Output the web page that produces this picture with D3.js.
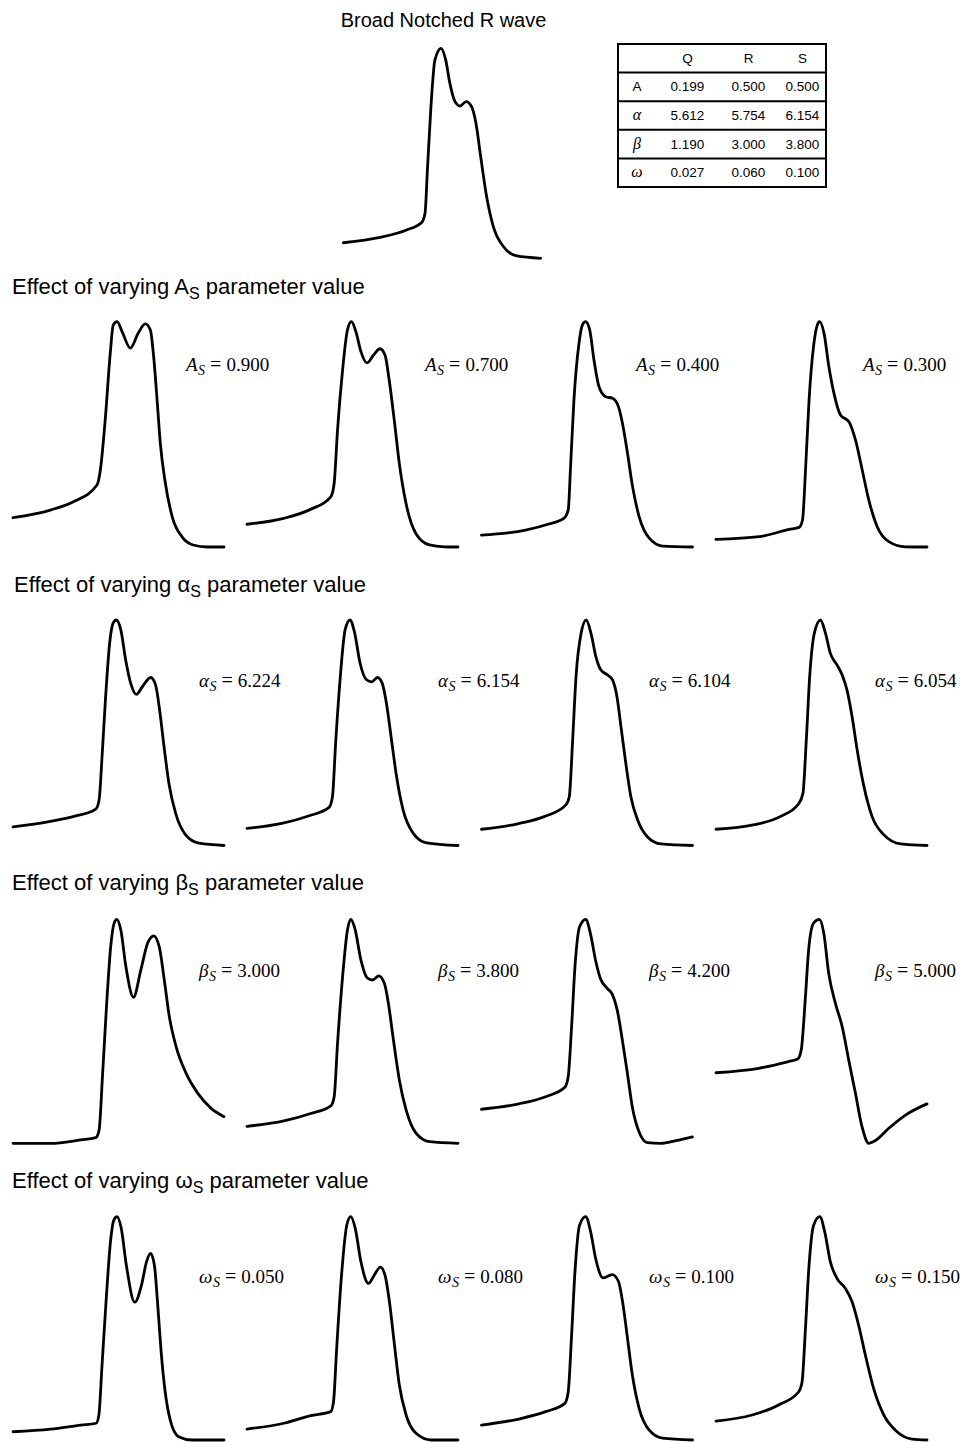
<!DOCTYPE html>
<html>
<head>
<meta charset="utf-8">
<script src="https://cdn.jsdelivr.net/npm/d3@7"></script>
<style>
  body { margin: 0; background: #fff; }
</style>
</head>
<body>
<div id="chart"></div>
<script>
// ---- DATA (t = time 0..100 %, v = amplitude 0..100 %) ----

const mainWave = [[0,7.4],[18.6,10],[32.1,13.5],[39.7,17],[41.4,21.4],[42.7,43.7],[44.4,72.2],[46.4,94.4],[49.5,100],[51.9,94.4],[54,83.3],[56.6,74.6],[59.1,72.5],[62.2,74.6],[65,72.2],[67.2,64.3],[69.6,48.4],[72.6,29.4],[76,15.1],[81.1,5.6],[87.9,1.1],[100,0]];

const ampWaves = [
  [[0,13],[17.7,16.4],[28.6,20.1],[39.8,27.5],[41.4,34.2],[43.7,56.4],[46.1,86.1],[47.5,98.5],[49.3,100],[51.7,95.6],[55.6,88.3],[59.4,95],[62.7,99],[65.1,96.3],[66.5,86.1],[68.4,63.9],[69.8,46.2],[72.2,28.4],[75.5,13.3],[80.2,4.4],[85.4,0.9],[92.1,0],[100,0]],
  [[0,10.1],[17.4,12.7],[30.1,16.7],[39.7,22.3],[41.3,28.2],[42.9,51.9],[45.3,78.5],[47.6,96.3],[49.5,100],[51.6,95.6],[54,86.7],[56.8,81.7],[60,85.2],[63,88],[65.4,85.2],[67.4,74],[69.8,56.2],[72.2,37],[75.4,19.2],[80.1,5.9],[86.5,0.9],[93.6,0.1],[100,0]],
  [[0,5.3],[20.9,7.5],[31.9,10.2],[39,12.7],[41.1,16.4],[42.2,35.5],[43.8,65.1],[46.2,90.4],[47.8,98.5],[49.3,100],[51.3,96.3],[53.3,83],[55.7,71.1],[58.9,66.7],[62.1,66],[64.9,62.3],[66.8,54.9],[69.2,41.6],[71.6,26.8],[74.7,13.5],[79.5,3.9],[85.8,0.4],[100,0]],
  [[0,3.4],[20.5,4.6],[34.7,7.8],[39.4,8.7],[41,12],[42.5,35.5],[44.1,65.1],[46.4,90.4],[48,98.5],[49.1,100],[51.2,94.8],[53.5,80],[55.9,68.2],[59,58.6],[63,55.6],[66.1,47.5],[69.3,34.2],[72.4,20.9],[76.4,9],[81.9,2.4],[89.8,0.1],[100,0]]
];

const alphaWaves = [
  [[0,8.3],[17.1,10.6],[29.7,13.1],[39.2,16.1],[40.8,20.2],[42.3,40.9],[43.9,66],[45.8,89.7],[47.4,98.5],[49,100],[51.1,95.6],[53.4,82.3],[55.8,71.9],[58.5,67],[61.3,70.4],[65.3,74.5],[67.6,71.1],[69.5,60],[71.6,43.7],[73.9,27.5],[77.1,14.2],[81.8,4.7],[88.2,1],[100,0]],
  [[0,7.6],[16.5,9.8],[29.1,13.1],[38.9,16.9],[40.5,21.6],[42,45.3],[44.1,73.4],[46.5,95.6],[48.8,100],[50.9,94.8],[53.6,80.8],[56.7,73.4],[59.1,72.6],[61.8,74.5],[64.1,71.9],[66.1,63],[68.5,46.7],[70.9,30.5],[74,15.7],[78.8,5.4],[85.1,1.2],[100,0]],
  [[0,7.2],[17.1,9.6],[29.7,12.8],[40,18],[41.6,21.6],[43.2,46.8],[44.8,74.9],[47.2,94.1],[49.6,100],[51.9,94.1],[54.2,83.8],[56.6,77.8],[59.8,75.6],[62.1,73.4],[64.2,66],[66.1,52.7],[68.4,36.4],[70.8,21.6],[74,11.3],[78.7,3.8],[85.1,0.7],[100,0]],
  [[0,7.2],[17.7,9.1],[30.4,12.8],[39.1,18.4],[41.2,23.1],[42.8,46.8],[44.4,74.9],[46.6,94.1],[49.5,100],[51.9,94.1],[54.2,85.2],[57.4,80],[59.8,75.6],[62.1,68.9],[64.5,57.1],[66.9,42.4],[70.1,26.2],[74,12.8],[79.6,4.7],[87.5,0.7],[100,0]]
];

const betaWaves = [
  [[0,0],[17.8,0],[32,1.5],[39.2,2.5],[40.8,5.9],[42.4,29.8],[44.4,62.5],[46.3,87.8],[47.9,98.2],[49.2,100],[51.1,95.2],[53.5,78.9],[57.1,65.2],[60.6,77.4],[63.8,89.3],[66.7,92.6],[69.3,87.8],[71.7,72.9],[74.1,56.5],[77.3,43.2],[82,31.3],[87.6,22.3],[93.9,15.6],[100,11.9]],
  [[0,7.6],[17.5,10],[30.2,13.3],[39.7,16.7],[41.3,20.7],[42.9,44.5],[45.3,74.3],[47.6,95.2],[49.2,100],[51.1,96],[54,81.8],[57.1,73.7],[59.5,72.9],[62.4,74.7],[65.1,71.4],[67,62.5],[69.4,46.1],[72.2,28.3],[75.4,14.9],[80.1,4.5],[86.5,0.7],[100,0]],
  [[0,15.2],[17.7,17.6],[30.4,20.8],[39.5,25],[41.1,29.8],[42.7,52.1],[44.3,78.9],[46.5,96.7],[49.4,100],[51.7,93.3],[54.1,81.5],[56.5,73.2],[59.6,69.2],[62,66.5],[64.4,59.1],[66.8,45.8],[69.2,30.9],[71.5,16.1],[74.7,5],[78.6,0.3],[85,0],[92.1,1.2],[100,2.9]],
  [[0,31.5],[20.2,33.5],[34.4,36.5],[38.7,37.6],[40.4,41.7],[42.3,64.1],[43.9,86.4],[46.3,98.4],[49,100],[51.1,93.8],[53.4,75.9],[56.6,62.5],[59.8,52.1],[62.9,37.2],[66.1,22.3],[69.2,7.4],[72.4,0],[75.5,1.2],[81.9,6.7],[89.8,12.6],[100,17.6]]
];

const omegaWaves = [
  [[0,3.7],[17.8,4.9],[32.2,6.7],[39.4,7.5],[40.7,11.2],[42.2,33.6],[44.2,63.4],[46.2,88.8],[47.8,98.5],[49.3,100],[51.3,94.8],[53.7,78.4],[57.7,61.7],[60.9,69.4],[63.3,79.9],[65.2,83.6],[67,78.4],[68.6,60.4],[70.2,39.6],[72.1,21.7],[74.5,9],[78.5,1.5],[84.8,0],[100,0]],
  [[0,4.9],[17.5,7.5],[30.2,10.9],[39.7,12.7],[41,17.1],[42.5,41],[44.8,73.8],[47.3,96.3],[49.2,100],[51.3,94.8],[54,79.8],[57.6,70.1],[60.3,73.8],[63.2,77.4],[65.4,73.8],[67.5,61.9],[69.9,42.5],[72.2,24.6],[75.4,11.2],[80.1,3],[87.3,0],[100,0]],
  [[0,6.7],[17.7,9.4],[30.4,12.7],[39.5,16.4],[41.1,21.6],[42.7,47],[44.3,75.4],[46.5,96.3],[49.4,100],[51.7,93.3],[54.1,81.3],[57.6,72.6],[62,74.1],[64.9,71.1],[67.1,60.4],[69.2,45.5],[71.5,29.1],[74.7,14.2],[79.4,4.5],[85.8,0.8],[100,0]],
  [[0,8.5],[17.1,11.2],[29.7,15.7],[39.2,21.6],[40.8,26.1],[42.4,50],[44,76.9],[46.3,96.3],[49.2,100],[51.5,93.3],[54.2,79.8],[57.4,72.3],[61.3,67.9],[64.5,61.9],[67.6,51.4],[70.8,38],[74.7,23.1],[79.5,11.2],[85.8,3.7],[92.9,0.4],[100,0]]
];

// parameter values shown next to each small wave
const ampValues   = ["0.900", "0.700", "0.400", "0.300"];
const alphaValues = ["6.224", "6.154", "6.104", "6.054"];
const betaValues  = ["3.000", "3.800", "4.200", "5.000"];
const omegaValues = ["0.050", "0.080", "0.100", "0.150"];

// parameter table
const tableCols = ["Q", "R", "S"];
const tableRows = ["A", "α", "β", "ω"];
const tableValues = [
  ["0.199", "0.500", "0.500"],
  ["5.612", "5.754", "6.154"],
  ["1.190", "3.000", "3.800"],
  ["0.027", "0.060", "0.100"]
];

// ---- LAYOUT ----
const width = 963, height = 1442;
const sansFont = "'Liberation Sans', Arial, sans-serif";
const serifFont = "'Liberation Serif', 'Times New Roman', serif";

const rows = [
  { sym: "A", waves: ampWaves,   values: ampValues,   top: 321.7, bottom: 547,    titleX: 12, titleY: 294,  labelY: 371,  labelX: [186, 425, 636, 863] },
  { sym: "α", waves: alphaWaves, values: alphaValues, top: 620,   bottom: 845.5,  titleX: 14, titleY: 592,  labelY: 687,  labelX: [199, 438, 649, 875] },
  { sym: "β", waves: betaWaves,  values: betaValues,  top: 919.3, bottom: 1143.3, titleX: 12, titleY: 890,  labelY: 977,  labelX: [199, 438, 649, 875] },
  { sym: "ω", waves: omegaWaves, values: omegaValues, top: 1216.7,bottom: 1440,   titleX: 12, titleY: 1188, labelY: 1283, labelX: [199, 438, 649, 875] }
];
const colLeft = [13, 247, 481.5, 716];
const panelWidth = 211;

const svg = d3.select("#chart")
  .append("svg")
  .attr("width", width)
  .attr("height", height)
  .style("background", "#fff");

// draw one waveform into the box [x0,x1] x [yTop,yBottom]
function drawWave(points, x0, x1, yTop, yBottom) {
  const x = d3.scaleLinear()
    .domain(d3.extent(points, d => d[0]))
    .range([x0, x1]);
  const y = d3.scaleLinear()
    .domain(d3.extent(points, d => d[1]))
    .range([yBottom, yTop]);
  const line = d3.line()
    .x(d => x(d[0]))
    .y(d => y(d[1]))
    .curve(d3.curveMonotoneX);
  svg.append("path")
    .datum(points)
    .attr("d", line)
    .attr("fill", "none")
    .attr("stroke", "#000")
    .attr("stroke-width", 2.8)
    .attr("stroke-linejoin", "round")
    .attr("stroke-linecap", "round");
}

// ---- Title + main wave ----
svg.append("text")
  .attr("x", 443.5)
  .attr("y", 27)
  .attr("text-anchor", "middle")
  .style("font-family", sansFont)
  .style("font-size", "20px")
  .text("Broad Notched R wave");

drawWave(mainWave, 343.3, 540.7, 48.3, 258.3);

// ---- Parameter table ----
const tableX0 = 618, tableX1 = 826;
const rowBand = d3.scaleBand()
  .domain(["head", ...tableRows])
  .range([44, 187]);
const colX = d3.scaleOrdinal()
  .domain(["label", ...tableCols])
  .range([637, 687.5, 748.5, 802.5]);

const table = svg.append("g");
// horizontal rules
table.selectAll("line.h")
  .data([44, ...tableRows.map(r => rowBand(r)), 187])
  .enter()
  .append("line")
  .attr("x1", tableX0)
  .attr("x2", tableX1)
  .attr("y1", d => d)
  .attr("y2", d => d)
  .attr("stroke", "#000")
  .attr("stroke-width", 2);
// outer verticals
table.selectAll("line.v")
  .data([tableX0, tableX1])
  .enter()
  .append("line")
  .attr("x1", d => d)
  .attr("x2", d => d)
  .attr("y1", 43)
  .attr("y2", 188)
  .attr("stroke", "#000")
  .attr("stroke-width", 2);

table.selectAll("text.head")
  .data(tableCols)
  .enter()
  .append("text")
  .attr("x", d => colX(d))
  .attr("y", rowBand("head") + rowBand.bandwidth() / 2 + 4.5)
  .attr("text-anchor", "middle")
  .style("font-family", sansFont)
  .style("font-size", "13.5px")
  .text(d => d);

tableRows.forEach((r, i) => {
  const yy = rowBand(r) + rowBand.bandwidth() / 2 + 4.5;
  table.append("text")
    .attr("x", colX("label"))
    .attr("y", yy)
    .attr("text-anchor", "middle")
    .style("font-family", i === 0 ? sansFont : serifFont)
    .style("font-style", i === 0 ? "normal" : "italic")
    .style("font-size", i === 0 ? "13.5px" : "16px")
    .text(r);
  tableValues[i].forEach((v, j) => {
    table.append("text")
      .attr("x", colX(tableCols[j]))
      .attr("y", yy)
      .attr("text-anchor", "middle")
      .style("font-family", sansFont)
      .style("font-size", "13.5px")
      .text(v);
  });
});

// ---- Rows of small waves ----
rows.forEach(row => {
  // row heading with subscript S
  const t = svg.append("text")
    .attr("x", row.titleX)
    .attr("y", row.titleY)
    .style("font-family", sansFont)
    .style("font-size", "22px");
  t.append("tspan").text("Effect of varying " + row.sym);
  t.append("tspan").attr("dy", 5).style("font-size", "16px").text("S");
  t.append("tspan").attr("dy", -5).text(" parameter value");

  row.waves.forEach((w, i) => {
    drawWave(w, colLeft[i], colLeft[i] + panelWidth, row.top, row.bottom);

    // math-style label:  sym_S = value
    const lbl = svg.append("text")
      .attr("x", row.labelX[i])
      .attr("y", row.labelY)
      .style("font-family", serifFont)
      .style("font-size", "19px");
    lbl.append("tspan").style("font-style", "italic").text(row.sym);
    lbl.append("tspan").attr("dy", 4).attr("dx", 0.5).style("font-style", "italic").style("font-size", "14px").text("S");
    lbl.append("tspan").attr("dy", -4).attr("dx", 5).style("font-size", "20px").text("=");
    lbl.append("tspan").attr("dx", 5).text(row.values[i]);
  });
});
</script>
</body>
</html>
